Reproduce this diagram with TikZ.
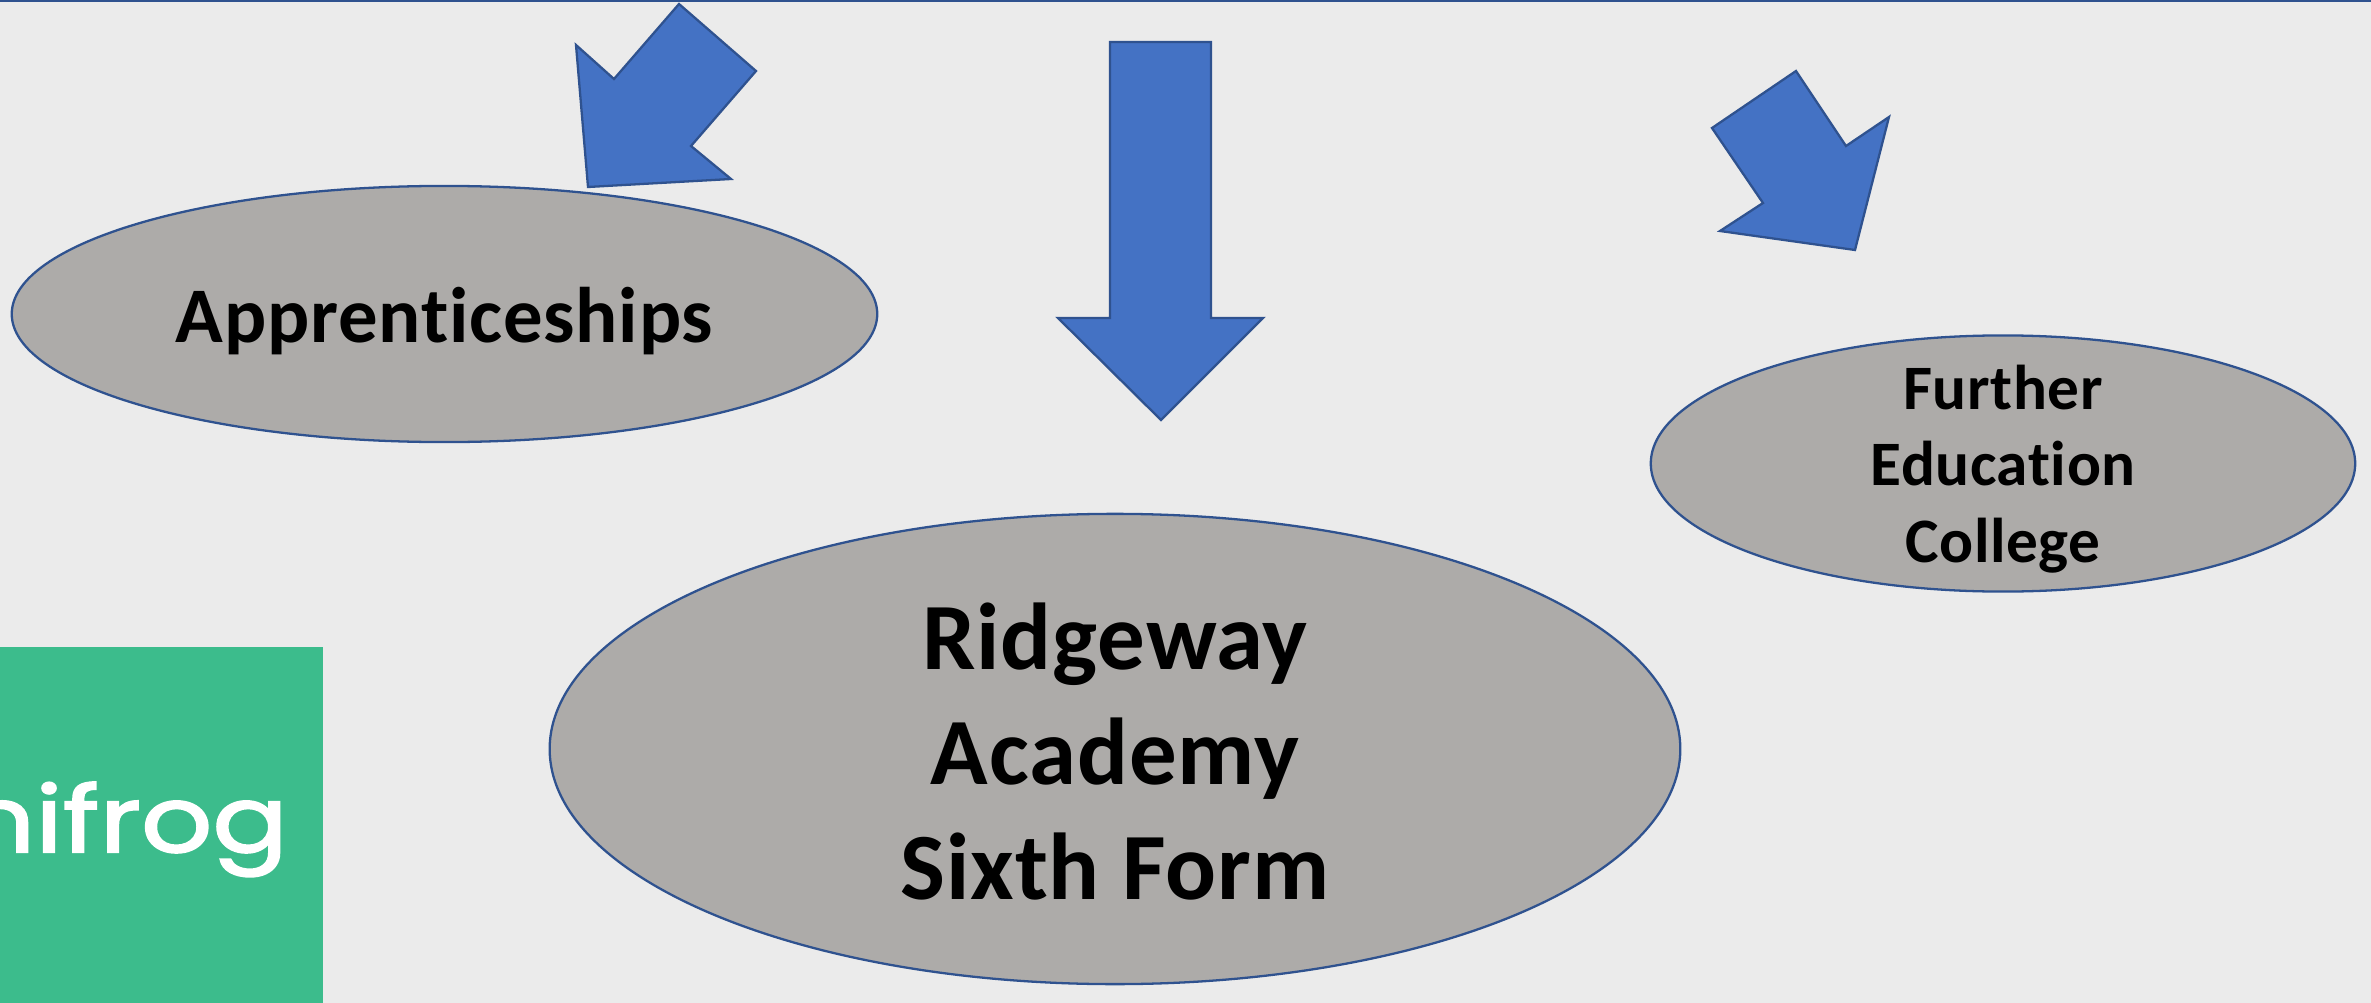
\documentclass[tikz,border=0pt]{standalone}
\usepackage{fontspec}
\setmainfont[Ligatures=NoCommon,LetterSpace=1]{Carlito}
\newfontfamily\logofont[FakeStretch=1.22,FakeBold=2.2]{Poppins}
\usetikzlibrary{shapes.geometric}
\definecolor{pagegrey}{HTML}{EBEBEB}
\definecolor{ovalgrey}{HTML}{ADABA9}
\definecolor{edgeblue}{HTML}{2F528F}
\definecolor{arrowblue}{HTML}{4472C4}
\definecolor{frog}{HTML}{3CBC8C}
\begin{document}
\begin{tikzpicture}
[
 x=0.01cm,
 y=-0.01cm,
 line width=0.65pt,
 align=center,
 inner sep=0pt,
 oval/.style={draw=edgeblue,fill=ovalgrey,ellipse},
 arrowshape/.style={draw=edgeblue,fill=arrowblue,line join=miter}
]
\useasboundingbox (0,0) rectangle (2371,1003);
\fill [pagegrey] (0,0) rectangle (2371,1003);
\draw [edgeblue,line width=0.7pt] (0,0.5) -- (2371,0.5);
% logo
\node (logo-box) [fill=frog,minimum width=3.23cm,minimum height=3.56cm] at (161.5,825) {};
\node (logo-text) [anchor=base east,text=white,font=\logofont\fontsize{26}{26}\selectfont] at (289,852) {nifrog};
% destinations
\node (apprentice) [oval,minimum width=8.65cm,minimum height=2.56cm] at (444.5,314) {};
\node (apprentice-text) [font=\bfseries\fontsize{22.4}{26}\selectfont] at (444.5,321) {Apprenticeships};
\node (ridgeway) [oval,minimum width=11.3cm,minimum height=4.7cm] at (1115,749) {};
\node (ridgeway-text) [font=\bfseries\fontsize{27}{32.7}\selectfont] at (1115,752) {Ridgeway\\Academy\\Sixth Form};
\node (further) [oval,minimum width=7.04cm,minimum height=2.56cm] at (2003,463.5) {};
\node (further-text) [font=\bfseries\fontsize{18}{21.8}\selectfont] at (2003,469) {Further\\Education\\College};
% arrows
\draw [arrowshape] (679,4) -- (756,71) -- (691,146) -- (731,179) -- (588,187) -- (576,45) -- (614,79) -- cycle;
\draw [arrowshape] (1110,42) -- (1211,42) -- (1211,318) -- (1263,318) -- (1161,420) -- (1058,318) -- (1110,318) -- cycle;
\draw [arrowshape] (1796,71) -- (1846,146) -- (1889,117) -- (1855,250) -- (1720,231) -- (1763,203) -- (1712,128) -- cycle;
\end{tikzpicture}
\end{document}
